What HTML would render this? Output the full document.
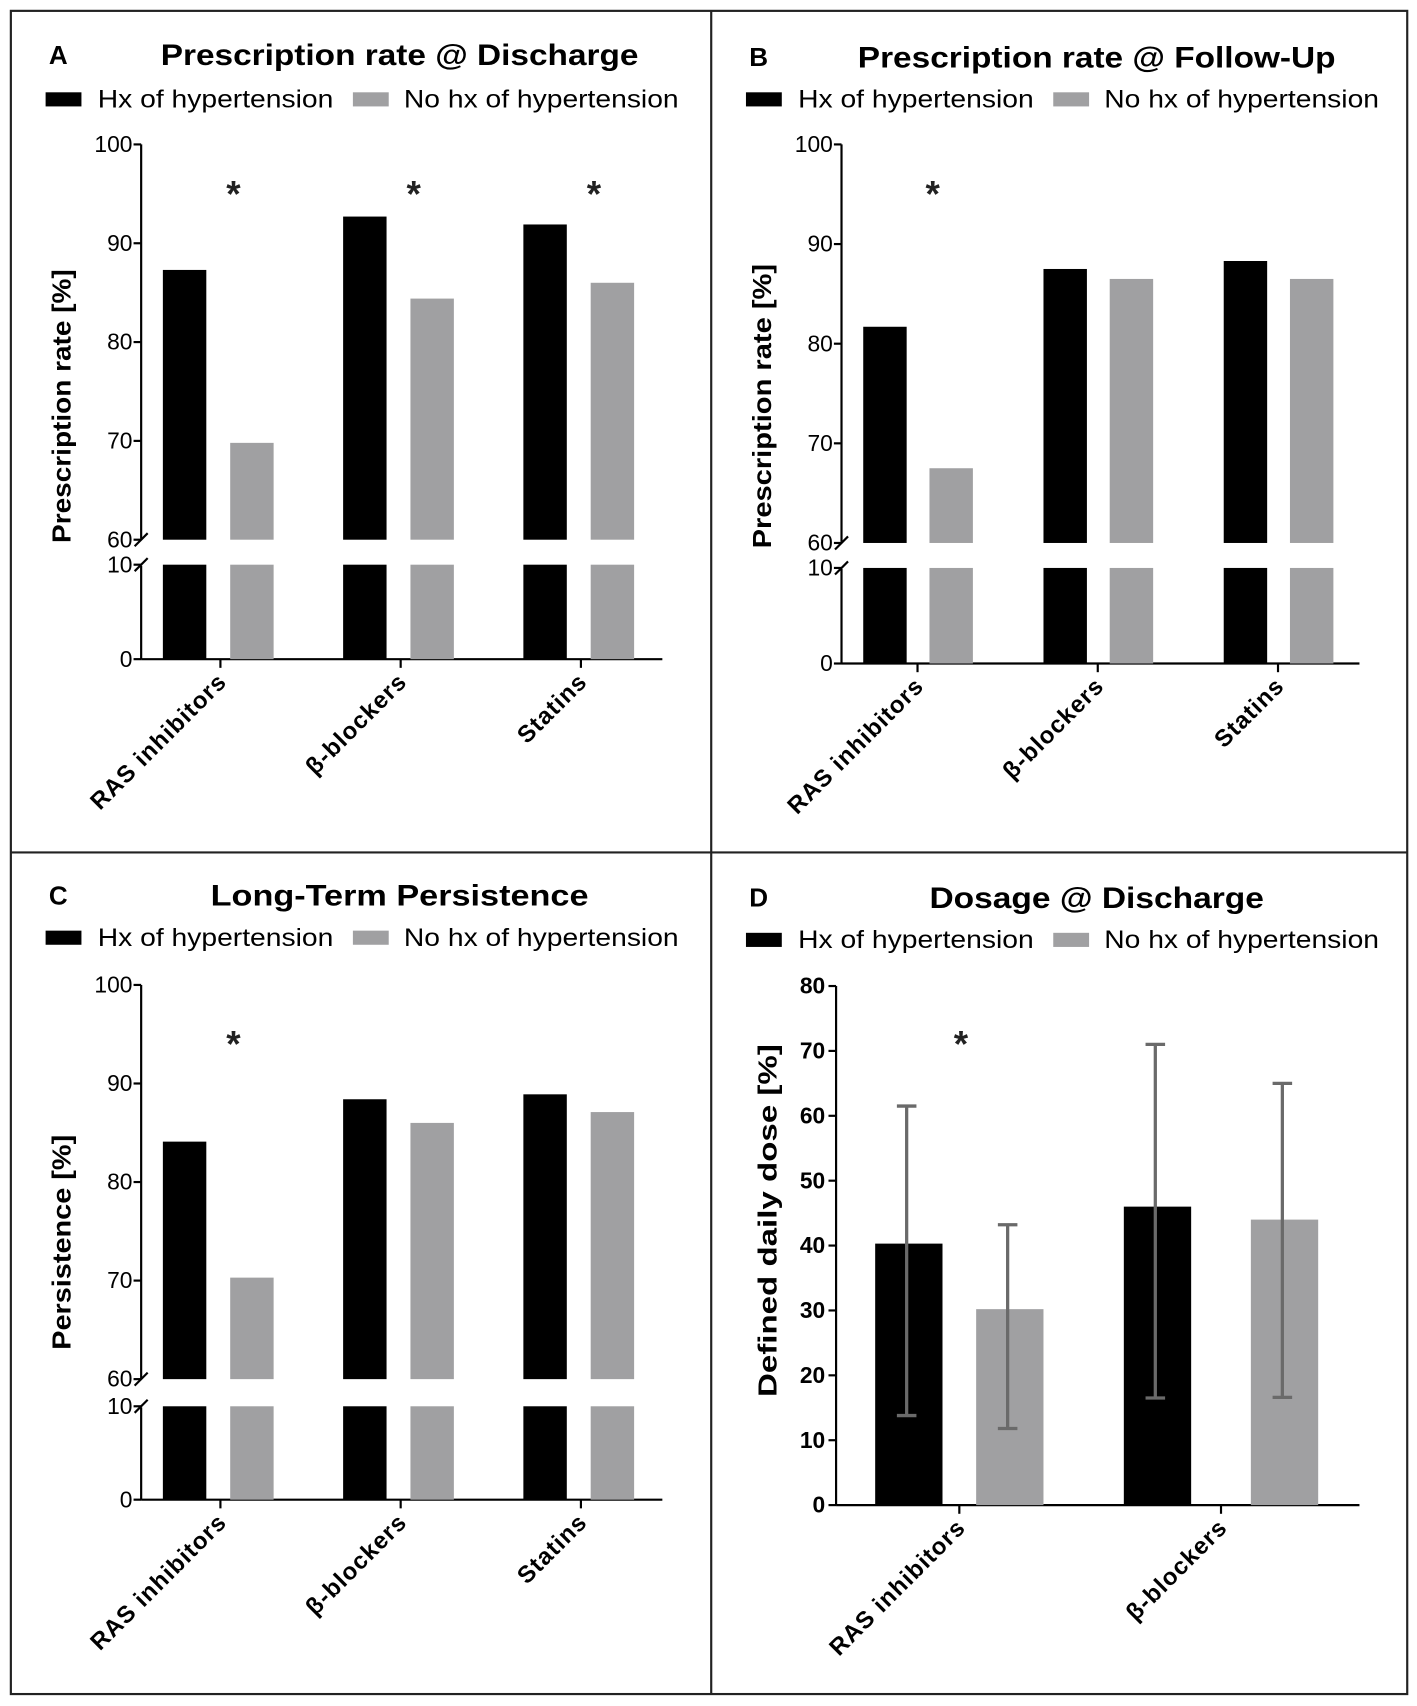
<!DOCTYPE html>
<html><head><meta charset="utf-8"><style>
html,body{margin:0;padding:0;background:#fff;}
svg{display:block;font-family:"Liberation Sans",sans-serif;}
</style></head><body>
<svg id="chart" width="1417" height="1706" viewBox="0 0 1305 1571" preserveAspectRatio="none" xmlns="http://www.w3.org/2000/svg">
<rect x="10" y="10" width="1286" height="1550" fill="none" stroke="#222" stroke-width="2"/>
<line x1="655" y1="10" x2="655" y2="1560" stroke="#222" stroke-width="2"/>
<line x1="10" y1="785" x2="1296" y2="785" stroke="#222" stroke-width="2"/>
</svg>
<script>
const svg = document.getElementById('chart');
const NS = 'http://www.w3.org/2000/svg';
// Data
const catsABC = ['RAS inhibitors', 'β-blockers', 'Statins'];
const catsD = ['RAS inhibitors', 'β-blockers'];
const aHx = [87.3, 92.7, 91.9];
const aNo = [69.8, 84.4, 86.0];
const aSig = [true, true, true];
const bHx = [81.7, 87.5, 88.3];
const bNo = [67.5, 86.5, 86.5];
const bSig = [true, false, false];
const cHx = [84.1, 88.4, 88.9];
const cNo = [70.3, 86.0, 87.1];
const cSig = [true, false, false];
const dHx = [40.3, 46.0];
const dNo = [30.2, 44.0];
const dHxLo = [13.8, 16.5];
const dHxHi = [61.5, 71.0];
const dNoLo = [11.8, 16.6];
const dNoHi = [43.2, 65.0];
const dSig = [true, false];
const brokenTicksTop = [60, 70, 80, 90, 100];
const brokenTicksBottom = [0, 10];
const dTicks = [0, 10, 20, 30, 40, 50, 60, 70, 80];

function el(tag, attrs, parent) {
  const e = document.createElementNS(NS, tag);
  for (const k in attrs) e.setAttribute(k, attrs[k]);
  (parent || svg).appendChild(e);
  return e;
}
function txt(s, attrs) { const t = el('text', attrs); t.textContent = s; return t; }

function header(p) {
  const l = txt(p.letter, {x: p.ox + 35, y: p.ty + 9, 'font-size': 24, 'font-weight': 'bold'});
  
  
  const t = txt(p.title, {x: p.tcx, y: p.ty + 10, 'font-size': 27, 'font-weight': 'bold', 'text-anchor': 'middle', textLength: p.tw, lengthAdjust: 'spacingAndGlyphs'});
  
  
  const r1 = el('rect', {x: p.ox + 32, y: p.ly - 6, width: 33, height: 13, fill: '#000'});
  
  
  const l1 = txt('Hx of hypertension', {x: p.ox + 80, y: p.ly + 8, 'font-size': 23, textLength: 217, lengthAdjust: 'spacingAndGlyphs'});
  
  
  const r2 = el('rect', {x: p.ox + 315, y: p.ly - 6, width: 33, height: 13, fill: '#a0a0a2'});
  
  
  const l2 = txt('No hx of hypertension', {x: p.ox + 362, y: p.ly + 8, 'font-size': 23, textLength: 253, lengthAdjust: 'spacingAndGlyphs'});
  
  
}

function star(x, y) {
  const s = txt('*', {x: x, y: y + 18, 'font-size': 34, 'font-weight': 'bold', 'text-anchor': 'middle', fill: '#222'});
  
  
}

function catLabel(s, x, y) {
  const t = txt(s, {x: 0, y: 0, 'font-size': 22, 'font-weight': 'bold', 'letter-spacing': 1, 'text-anchor': 'end', transform: `translate(${x + 7},${y + 14}) rotate(-45)`});
  
  
}

function yTitle(s, x, y, len) {
  const yl = txt(s, {x: 0, y: 0, 'font-size': 24, 'font-weight': 'bold', 'text-anchor': 'middle', textLength: len, lengthAdjust: 'spacingAndGlyphs', transform: `translate(${x},${y}) rotate(-90)`});
  
  
}

// Broken-axis panel
function brokenPanel(p, hx, no, sig) {
  header(p);
  const yU = v => p.y60 - (v - 60) / 40 * (p.y60 - p.y100);
  const yL = v => p.y0 - v / 10 * (p.y0 - p.y10);
  const ax = p.ax;
  const a1 = el('line', {x1: ax, y1: p.y100, x2: ax, y2: p.y60 - 1, stroke: '#000', 'stroke-width': 2});
  
  
  const a2 = el('line', {x1: ax, y1: p.y10 + 1, x2: ax, y2: p.y0, stroke: '#000', 'stroke-width': 2});
  
  
  el('line', {x1: ax - 6, y1: p.y60 + 6, x2: ax + 6, y2: p.y60 - 6, stroke: '#000', 'stroke-width': 2});
  el('line', {x1: ax - 6, y1: p.y10 + 6, x2: ax + 6, y2: p.y10 - 6, stroke: '#000', 'stroke-width': 2});
  brokenTicksTop.forEach(v => {
    el('line', {x1: ax - 7, y1: yU(v), x2: ax, y2: yU(v), stroke: '#000', 'stroke-width': 2});
    const t = txt(String(v), {x: ax - 8, y: yU(v) + 7, 'font-size': 21, 'text-anchor': 'end'});
    
    
  });
  brokenTicksBottom.forEach(v => {
    el('line', {x1: ax - 7, y1: yL(v), x2: ax, y2: yL(v), stroke: '#000', 'stroke-width': 2});
    const t = txt(String(v), {x: ax - 8, y: yL(v) + 7, 'font-size': 21, 'text-anchor': 'end'});
    
    
  });
  const xa = el('line', {x1: ax, y1: p.y0, x2: p.xend, y2: p.y0, stroke: '#000', 'stroke-width': 2});
  
  
  yTitle(p.ylabel, p.ox + 55, p.ytc, p.ylen);
  const bw = 40;
  p.cats.forEach((c, i) => {
    const gx = p.g0 + i * p.gstep;
    [[hx[i], '#000', gx, 'bar-hx'], [no[i], '#a0a0a2', gx + p.gap, 'bar-no-hx']].forEach(([v, col, x, nm]) => {
      const top = yU(v);
      const r1 = el('rect', {x: x, y: top, width: bw, height: p.y60 - top, fill: col});
      
      
      const r2 = el('rect', {x: x, y: yL(10), width: bw, height: p.y0 - yL(10), fill: col});
      
      
    });
    const tx = gx + p.tickOff;
    el('line', {x1: tx, y1: p.y0, x2: tx, y2: p.y0 + 8, stroke: '#000', 'stroke-width': 2});
    catLabel(c, tx, p.y0 + 8);
    if (sig[i]) star(gx + p.gap + 3, p.starY);
  });
}

brokenPanel({ox: 10, letter: 'A', title: 'Prescription rate @ Discharge', tcx: 368, ty: 50, tw: 440, ly: 91,
  ax: 130, y100: 133, y60: 497, y10: 520, y0: 607, xend: 610, g0: 150, gstep: 166, gap: 62, tickOff: 53,
  cats: catsABC, ylabel: 'Prescription rate [%]', ytc: 374, ylen: 252, starY: 172}, aHx, aNo, aSig);
brokenPanel({ox: 655, letter: 'B', title: 'Prescription rate @ Follow-Up', tcx: 1010, ty: 52, tw: 440, ly: 91,
  ax: 775, y100: 133, y60: 500, y10: 523, y0: 611, xend: 1252, g0: 795, gstep: 166, gap: 61, tickOff: 50,
  cats: catsABC, ylabel: 'Prescription rate [%]', ytc: 374, ylen: 262, starY: 172}, bHx, bNo, bSig);
brokenPanel({ox: 10, letter: 'C', title: 'Long-Term Persistence', tcx: 368, ty: 824, tw: 348, ly: 863,
  ax: 130, y100: 907, y60: 1270, y10: 1295, y0: 1381, xend: 610, g0: 150, gstep: 166, gap: 62, tickOff: 53,
  cats: catsABC, ylabel: 'Persistence [%]', ytc: 1144, ylen: 198, starY: 955}, cHx, cNo, cSig);

// Panel D
(function () {
  const p = {ox: 655, letter: 'D', title: 'Dosage @ Discharge', tcx: 1010, ty: 826, tw: 308, ly: 865};
  header(p);
  const ax = 770, y0 = 1386, y80 = 908, xend = 1252;
  const y = v => y0 - v / 80 * (y0 - y80);
  const a = el('line', {x1: ax, y1: y80, x2: ax, y2: y0, stroke: '#000', 'stroke-width': 2});
  
  
  const xa = el('line', {x1: ax, y1: y0, x2: xend, y2: y0, stroke: '#000', 'stroke-width': 2});
  
  
  dTicks.forEach(v => {
    el('line', {x1: ax - 7, y1: y(v), x2: ax, y2: y(v), stroke: '#000', 'stroke-width': 2});
    const t = txt(String(v), {x: ax - 10, y: y(v) + 7, 'font-size': 21, 'font-weight': 'bold', 'text-anchor': 'end'});
    
    
  });
  yTitle('Defined daily dose [%]', 715, 1124, 325);
  const g0 = 806, gstep = 229, gap0 = 93, gapStep = 24, bw = 62;
  catsD.forEach((c, i) => {
    const gx = g0 + i * gstep;
    const gap = gap0 + i * gapStep;
    [[dHx[i], dHxLo[i], dHxHi[i], '#000', gx, 'bar-hx'], [dNo[i], dNoLo[i], dNoHi[i], '#a0a0a2', gx + gap, 'bar-no-hx']].forEach(([v, lo, hi, col, x, nm]) => {
      const r = el('rect', {x: x, y: y(v), width: bw, height: y0 - y(v), fill: col});
      
      
      const cx = x + bw / 2 - 2;
      const e = el('line', {x1: cx, y1: y(hi), x2: cx, y2: y(lo), stroke: '#6a6a6a', 'stroke-width': 3});
      
      
      el('line', {x1: cx - 9, y1: y(hi), x2: cx + 9, y2: y(hi), stroke: '#6a6a6a', 'stroke-width': 3});
      el('line', {x1: cx - 9, y1: y(lo), x2: cx + 9, y2: y(lo), stroke: '#6a6a6a', 'stroke-width': 3});
    });
    const tx = (gx + bw + gx + gap) / 2;
    el('line', {x1: tx, y1: y0, x2: tx, y2: y0 + 8, stroke: '#000', 'stroke-width': 2});
    catLabel(c, tx, y0 + 8);
    if (dSig[i]) star(gx + 79, 955);
  });
})();
</script>
</body></html>
